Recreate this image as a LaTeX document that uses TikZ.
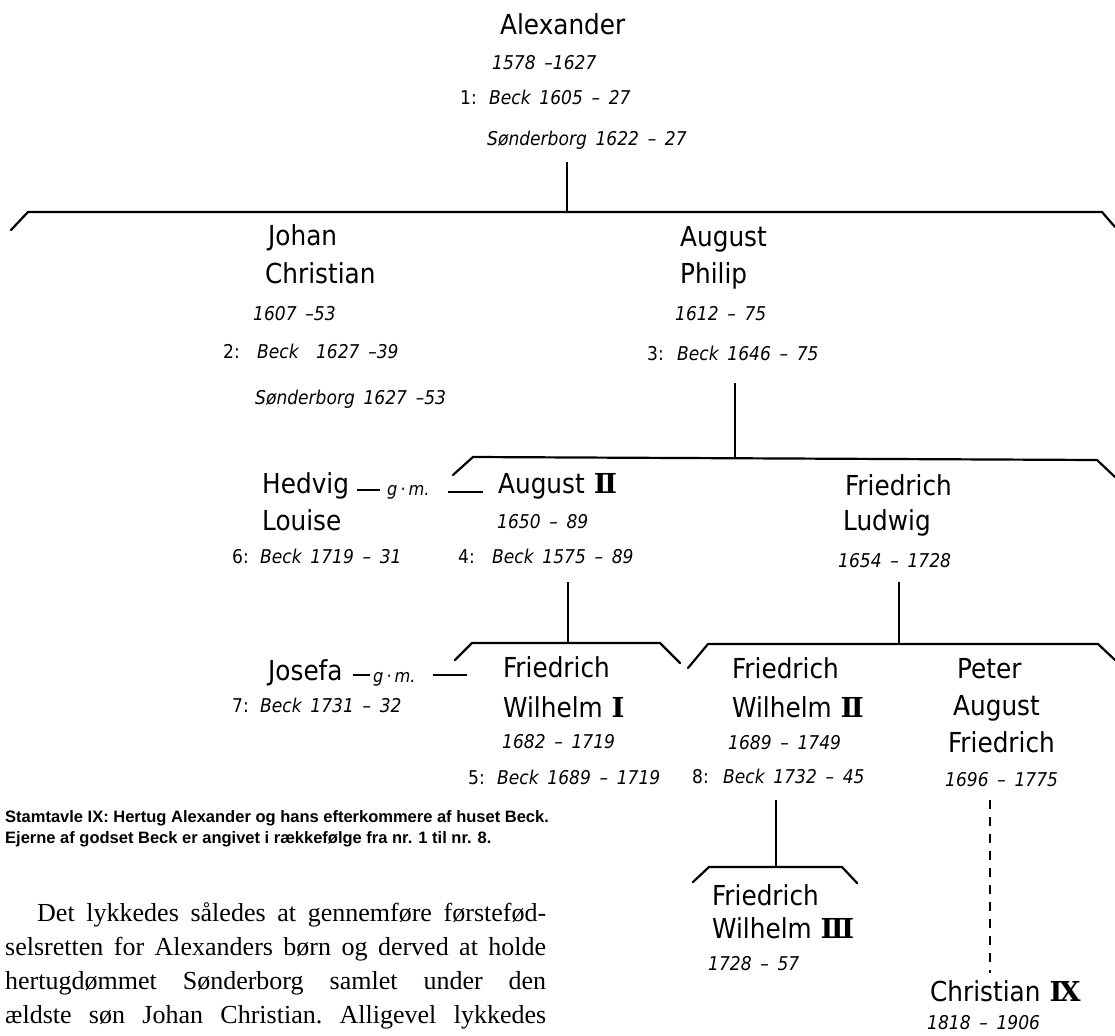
\documentclass[tikz,border=0pt]{standalone}
\usepackage{fontspec}
\setmainfont{Liberation Serif}
\newfontfamily\lettering{DejaVu Sans Condensed}
\newfontfamily\datefont[WordSpace=1.6]{DejaVu Sans Condensed}
\newfontfamily\romfont{DejaVu Serif}
\newcommand{\rom}[1]{\hspace{9pt}{\romfont\bfseries #1}}
\newfontfamily\capfont{Liberation Sans}
\begin{document}
\begin{tikzpicture}[x=1pt,y=-1pt,
  nm/.style={anchor=base west, inner sep=0pt, font=\lettering\fontsize{27.5}{27.5}\selectfont},
  dt/.style={anchor=base west, inner sep=0pt, font=\datefont\itshape\fontsize{19}{19}\selectfont},
  num/.style={anchor=base west, inner sep=0pt, font=\lettering\fontsize{19}{19}\selectfont},
  gm/.style={anchor=base west, inner sep=0pt, font=\lettering\itshape\fontsize{18}{18}\selectfont},
  captxt/.style={anchor=base west, inner sep=0pt, font=\capfont\bfseries\fontsize{16.5}{16.5}\selectfont},
  bodytxt/.style={anchor=base west, inner sep=0pt, font=\frenchspacing\fontsize{26}{26}\selectfont},
  link/.style={line width=1.6pt},
  bracket/.style={line width=2.2pt, line join=round, line cap=round},
  dashedlink/.style={line width=1.6pt, dash pattern=on 9pt off 8pt},
  gmline/.style={line width=1.4pt}]
\fill[white] (0,0) rectangle (1115,1035);
\useasboundingbox (0,0) rectangle (1115,1035);

% Alexander
\node[nm] (alex) at (500,35) {Alexander};
\node[dt] (alexd) at (492,70) {1578 –1627};
\node[num] (alexn) at (460,105) {1:};
\node[dt] (alexb) at (489,105) {Beck 1605 – 27};
\node[dt] (alexs) at (487,146) {Sønderborg 1622 – 27};

% Johan Christian
\node[nm] (jc1) at (268,245) {Johan};
\node[nm] (jc2) at (265,283) {Christian};
\node[dt] (jcd) at (253,320) {1607 –53};
\node[num] (jcn) at (223,358) {2:};
\node[dt] (jcb) at (257,358) {Beck\ \ 1627 –39};
\node[dt] (jcs) at (255,404) {Sønderborg\ 1627 –53};

% August Philip
\node[nm] (ap1) at (680,246) {August};
\node[nm] (ap2) at (680,283) {Philip};
\node[dt] (apd) at (675,320) {1612 – 75};
\node[num] (apn) at (647,360) {3:};
\node[dt] (apb) at (677,360) {Beck\ 1646 – 75};

% Hedvig Louise
\node[nm] (hl1) at (262,493) {Hedvig};
\node[nm] (hl2) at (262,530) {Louise};
\node[num] (hln) at (232,563) {6:};
\node[dt] (hlb) at (260,563) {Beck 1719 – 31};
\node[gm] (gm1) at (387,495) {g\,·\,m.};

% August II
\node[nm] (a21) at (498,493) {August\rom{Ⅱ}};
\node[dt] (a2d) at (497,528) {1650 – 89};
\node[num] (a2n) at (458,563) {4:};
\node[dt] (a2b) at (492,563) {Beck 1575 – 89};

% Friedrich Ludwig
\node[nm] (fl1) at (845,495) {Friedrich};
\node[nm] (fl2) at (843,530) {Ludwig};
\node[dt] (fld) at (838,567) {1654 – 1728};

% Josefa
\node[nm] (jo1) at (268,680) {Josefa};
\node[num] (jon) at (232,712) {7:};
\node[dt] (job) at (260,712) {Beck 1731 – 32};
\node[gm] (gm2) at (373,682) {g\,·\,m.};

% Friedrich Wilhelm I
\node[nm] (fw11) at (503,677) {Friedrich};
\node[nm] (fw12) at (503,717) {Wilhelm\rom{Ⅰ}};
\node[dt] (fw1d) at (502,748) {1682 – 1719};
\node[num] (fw1n) at (468,784) {5:};
\node[dt] (fw1b) at (497,784) {Beck 1689 – 1719};

% Friedrich Wilhelm II
\node[nm] (fw21) at (732,678) {Friedrich};
\node[nm] (fw22) at (732,717) {Wilhelm\rom{Ⅱ}};
\node[dt] (fw2d) at (728,749) {1689 – 1749};
\node[num] (fw2n) at (692,783) {8:};
\node[dt] (fw2b) at (723,783) {Beck 1732 – 45};

% Peter August Friedrich
\node[nm] (paf1) at (957,678) {Peter};
\node[nm] (paf2) at (953,715) {August};
\node[nm] (paf3) at (948,752) {Friedrich};
\node[dt] (pafd) at (945,786) {1696 – 1775};

% Friedrich Wilhelm III
\node[nm] (fw31) at (712,905) {Friedrich};
\node[nm] (fw32) at (712,938) {Wilhelm\rom{Ⅲ}};
\node[dt] (fw3d) at (708,970) {1728 – 57};

% Christian IX
\node[nm] (c91) at (930,1001) {Christian\rom{Ⅸ}};
\node[dt] (c9d) at (927,1029) {1818 – 1906};

% caption
\node[captxt] (cap1) at (5,822) {Stamtavle IX: Hertug Alexander og hans efterkommere af huset Beck.};
\node[captxt] (cap2) at (5,843) {Ejerne af godset Beck er angivet i rækkefølge fra nr. 1 til nr. 8.};

% body text
\node[bodytxt] (bt1) at (37,921) {\makebox[509pt][s]{Det lykkedes således at gennemføre førstefød-}};
\node[bodytxt] (bt2) at (5,955) {\makebox[541pt][s]{selsretten for Alexanders børn og derved at holde}};
\node[bodytxt] (bt3) at (5,989) {\makebox[541pt][s]{hertugdømmet Sønderborg samlet under den}};
\node[bodytxt] (bt4) at (5,1023) {\makebox[541pt][s]{ældste søn Johan Christian. Alligevel lykkedes}};

% coordinates for connectors
\coordinate (v1a) at (567,162);  \coordinate (v1b) at (567,212);
\coordinate (b1le) at (11,230);  \coordinate (b1l) at (28,212);
\coordinate (b1r) at (1102,212); \coordinate (b1re) at (1115,227);

\coordinate (v2a) at (735,383);  \coordinate (v2b) at (735,458);
\coordinate (b2le) at (453,475); \coordinate (b2l) at (473,457);
\coordinate (b2r) at (1097,460); \coordinate (b2re) at (1115,477);

\coordinate (v3a) at (568,582);  \coordinate (v3b) at (568,643);
\coordinate (b3le) at (455,660); \coordinate (b3l) at (472,643);
\coordinate (b3r) at (660,643);  \coordinate (b3re) at (680,663);

\coordinate (v4a) at (899,582);  \coordinate (v4b) at (899,644);
\coordinate (b4le) at (688,668); \coordinate (b4l) at (708,644);
\coordinate (b4r) at (1098,644); \coordinate (b4re) at (1115,660);

\coordinate (v5a) at (776,800);  \coordinate (v5b) at (776,867);
\coordinate (b5le) at (693,882); \coordinate (b5l) at (709,867);
\coordinate (b5r) at (842,867);  \coordinate (b5re) at (857,883);

\coordinate (d1a) at (990,800);  \coordinate (d1b) at (990,973);

\coordinate (g1a) at (357,490); \coordinate (g1b) at (380,490);
\coordinate (g1c) at (448,492); \coordinate (g1d) at (483,492);
\coordinate (g2a) at (353,675); \coordinate (g2b) at (370,675);
\coordinate (g2c) at (433,675); \coordinate (g2d) at (467,675);

% connectors
\draw[link] (v1a) -- (v1b);
\draw[bracket] (b1le) -- (b1l) -- (b1r) -- (b1re);
\draw[link] (v2a) -- (v2b);
\draw[bracket] (b2le) -- (b2l) -- (b2r) -- (b2re);
\draw[link] (v3a) -- (v3b);
\draw[bracket] (b3le) -- (b3l) -- (b3r) -- (b3re);
\draw[link] (v4a) -- (v4b);
\draw[bracket] (b4le) -- (b4l) -- (b4r) -- (b4re);
\draw[link] (v5a) -- (v5b);
\draw[bracket] (b5le) -- (b5l) -- (b5r) -- (b5re);
\draw[dashedlink] (d1a) -- (d1b);
\draw[gmline] (g1a) -- (g1b);
\draw[gmline] (g1c) -- (g1d);
\draw[gmline] (g2a) -- (g2b);
\draw[gmline] (g2c) -- (g2d);
\end{tikzpicture}
\end{document}
